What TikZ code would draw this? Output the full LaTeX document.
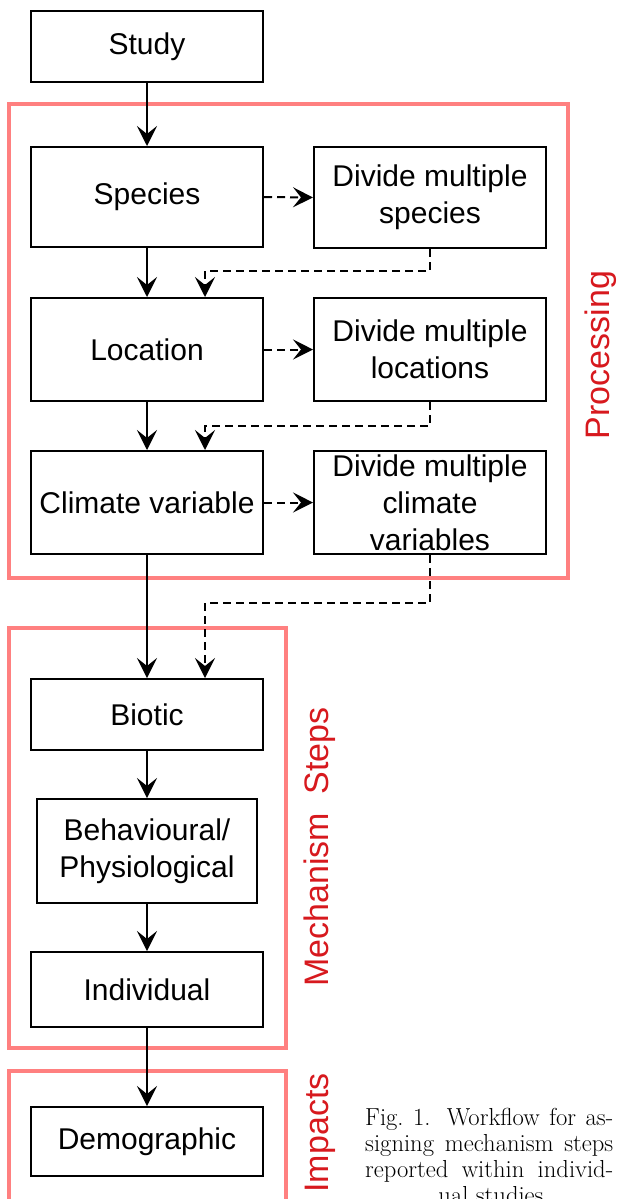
\documentclass[tikz,border=0pt]{standalone}
\usepackage{fontspec}
\newfontfamily\arialfont{Liberation Sans}
\usetikzlibrary{arrows.meta}
\definecolor{framered}{RGB}{255,128,128}
\definecolor{labelred}{RGB}{215,25,30}
\begin{document}
\begin{tikzpicture}[x=0.03cm,y=-0.03cm,>={Stealth[length=0.6cm,width=0.6cm,inset=0.24cm]},line join=miter,
	box/.style={draw,line width=0.06cm,minimum width=6.96cm,inner sep=0pt,align=center,
		font=\arialfont\fontsize{25.6}{31.6}\selectfont},
	redframe/.style={draw=framered,line width=0.12cm},
	redlabel/.style={rotate=90,text=labelred,inner sep=0pt,font=\arialfont\fontsize{29}{35}\selectfont},
	flow/.style={line width=0.06cm,->},
	split/.style={line width=0.06cm,->,dash pattern=on 0.24cm off 0.15cm},
	capline/.style={anchor=base west,inner sep=0pt,font=\fontsize{21}{24}\selectfont}]
	\useasboundingbox (0,0) rectangle (622,1199);
	% khung do
	\draw[redframe] (9,104) rectangle (568,578);
	\draw[redframe] (9,628) rectangle (286,1048);
	\draw[redframe] (9,1071) rectangle (286,1215);
	\node[redlabel] (processing) at (601,355) {Processing};
	\node[redlabel] (mechanism) at (320,847) {Mechanism\ \ Steps};
	\node[redlabel] (impacts) at (320,1133) {Impacts};
	% cot trai
	\node[box,minimum height=2.13cm] (study) at (147,46.5) {Study};
	\node[box,minimum height=3cm] (species) at (147,197) {Species};
	\node[box,minimum height=3.09cm] (location) at (147,349.5) {Location};
	\node[box,minimum height=3.09cm] (climate) at (147,502.5) {Climate variable};
	\node[box,minimum height=2.13cm] (biotic) at (147,714.5) {Biotic};
	\node[box,minimum width=6.6cm,minimum height=3.12cm] (behav) at (147,851) {Behavioural/\\Physiological};
	\node[box,minimum height=2.25cm] (individual) at (147,989.5) {Individual};
	\node[box,minimum height=2.07cm] (demographic) at (147,1141.5) {Demographic};
	% cot phai
	\node[box,minimum height=3.03cm] (dspecies) at (430,197.5) {Divide multiple\\species};
	\node[box,minimum height=3.09cm] (dlocation) at (430,349.5) {Divide multiple\\locations};
	\node[box,minimum height=3.09cm] (dclimate) at (430,502.5) {Divide multiple\\climate\\variables};
	% duong noi
	\draw[flow] (study) -- (species);
	\draw[flow] (species) -- (location);
	\draw[flow] (location) -- (climate);
	\draw[flow] (climate) -- (biotic);
	\draw[flow] (biotic) -- (behav);
	\draw[flow] (behav) -- (individual);
	\draw[flow] (individual) -- (demographic);
	\draw[split] (species.east) -- (dspecies.west);
	\draw[split] (location.east) -- (dlocation.west);
	\draw[split] (climate.east) -- (dclimate.west);
	\path (205,271) coordinate (k1)
		(205,426) coordinate (k2)
		(205,603) coordinate (k3);
	\draw[split] (dspecies.south) |- (k1) -- (k1 |- location.north);
	\draw[split] (dlocation.south) |- (k2) -- (k2 |- climate.north);
	\draw[split] (dclimate.south) |- (k3) -- (k3 |- biotic.north);
	% chu thich
	\node[capline] (cap1) at (365,1125) {\hbox to 7.44cm{Fig.\ 1. Workflow for as-}};
	\node[capline] (cap2) at (365,1151) {\hbox to 7.44cm{signing mechanism steps}};
	\node[capline] (cap3) at (365,1177) {\hbox to 7.44cm{reported within individ-}};
	\node[capline,anchor=base] (cap4) at (491,1203) {ual studies};
\end{tikzpicture}
\end{document}
